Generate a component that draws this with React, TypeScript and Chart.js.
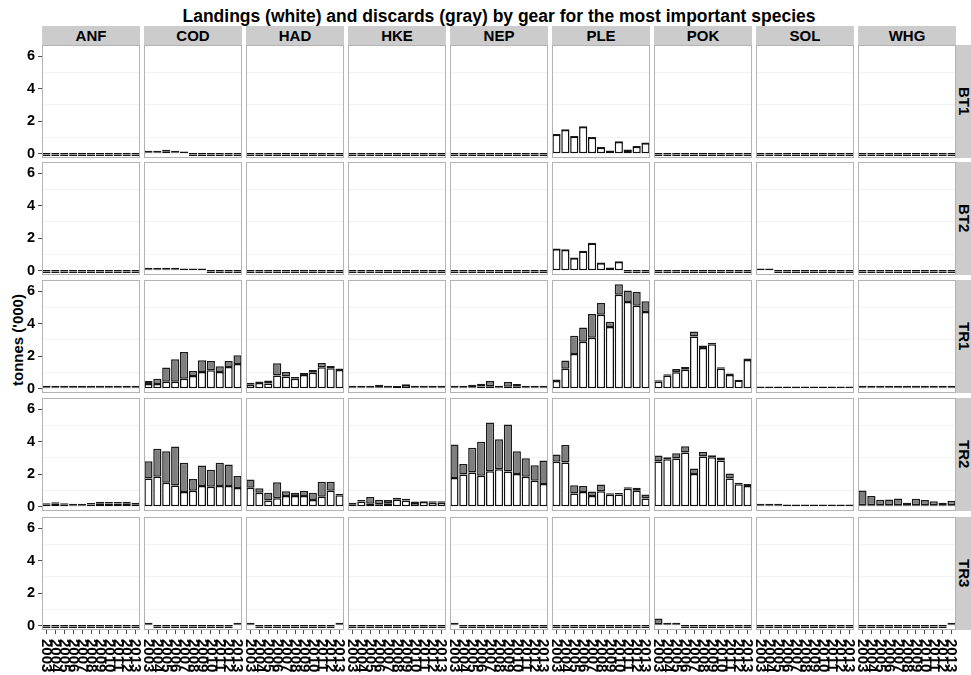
import React, { useEffect, useRef } from 'react';
import { Chart, registerables } from 'chart.js';

Chart.register(...registerables);

// ---------------- DATA ----------------
const YEARS = ['2003', '2004', '2005', '2006', '2007', '2008', '2009', '2010', '2011', '2012', '2013'];
const SPECIES = ['ANF', 'COD', 'HAD', 'HKE', 'NEP', 'PLE', 'POK', 'SOL', 'WHG'];
const GEARS = ['BT1', 'BT2', 'TR1', 'TR2', 'TR3'];
const Y_TICKS = [0, 2, 4, 6];
const TITLE = 'Landings (white) and discards (gray) by gear for the most important species';
const Y_TITLE = "tonnes ('000)";

// rows: ANF, COD, HAD, HKE, NEP, PLE, POK, SOL, WHG ; columns: 2003..2013
const LANDINGS_BT1 = [
  [0, 0, 0, 0, 0, 0, 0, 0, 0, 0, 0],
  [0.02, 0.04, 0.15, 0.03, 0.01, 0, 0, 0, 0, 0, 0],
  [0, 0, 0, 0, 0, 0, 0, 0, 0, 0, 0],
  [0, 0, 0, 0, 0, 0, 0, 0, 0, 0, 0],
  [0, 0, 0, 0, 0, 0, 0, 0, 0, 0, 0],
  [1.17, 1.46, 1.05, 1.65, 0.99, 0.37, 0.16, 0.72, 0.21, 0.43, 0.64],
  [0, 0, 0, 0, 0, 0, 0, 0, 0, 0, 0],
  [0, 0, 0, 0, 0, 0, 0, 0, 0, 0, 0],
  [0, 0, 0, 0, 0, 0, 0, 0, 0, 0, 0],
];
const DISCARDS_BT1 = [
  [0, 0, 0, 0, 0, 0, 0, 0, 0, 0, 0],
  [0.01, 0.01, 0.02, 0.01, 0, 0, 0, 0, 0, 0, 0],
  [0, 0, 0, 0, 0, 0, 0, 0, 0, 0, 0],
  [0, 0, 0, 0, 0, 0, 0, 0, 0, 0, 0],
  [0, 0, 0, 0, 0, 0, 0, 0, 0, 0, 0],
  [0, 0, 0, 0, 0, 0, 0, 0, 0, 0, 0],
  [0, 0, 0, 0, 0, 0, 0, 0, 0, 0, 0],
  [0, 0, 0, 0, 0, 0, 0, 0, 0, 0, 0],
  [0, 0, 0, 0, 0, 0, 0, 0, 0, 0, 0],
];

const LANDINGS_BT2 = [
  [0, 0, 0, 0, 0, 0, 0, 0, 0, 0, 0],
  [0.03, 0.03, 0.03, 0.04, 0.03, 0.02, 0.01, 0, 0, 0, 0],
  [0, 0, 0, 0, 0, 0, 0, 0, 0, 0, 0],
  [0, 0, 0, 0, 0, 0, 0, 0, 0, 0, 0],
  [0, 0, 0, 0, 0, 0, 0, 0, 0, 0, 0],
  [1.32, 1.27, 0.77, 1.18, 1.68, 0.46, 0.16, 0.54, 0, 0, 0],
  [0, 0, 0, 0, 0, 0, 0, 0, 0, 0, 0],
  [0.02, 0.01, 0, 0, 0, 0, 0, 0, 0, 0, 0],
  [0, 0, 0, 0, 0, 0, 0, 0, 0, 0, 0],
];
const DISCARDS_BT2 = [
  [0, 0, 0, 0, 0, 0, 0, 0, 0, 0, 0],
  [0.01, 0.01, 0.01, 0.01, 0, 0, 0, 0, 0, 0, 0],
  [0, 0, 0, 0, 0, 0, 0, 0, 0, 0, 0],
  [0, 0, 0, 0, 0, 0, 0, 0, 0, 0, 0],
  [0, 0, 0, 0, 0, 0, 0, 0, 0, 0, 0],
  [0, 0, 0, 0, 0, 0, 0, 0, 0, 0, 0],
  [0, 0, 0, 0, 0, 0, 0, 0, 0, 0, 0],
  [0, 0, 0, 0, 0, 0, 0, 0, 0, 0, 0],
  [0, 0, 0, 0, 0, 0, 0, 0, 0, 0, 0],
];

const LANDINGS_TR1 = [
  [0.02, 0.03, 0.05, 0.06, 0.1, 0.06, 0.05, 0.05, 0.03, 0.02, 0.02],
  [0.29, 0.29, 0.43, 0.43, 0.62, 0.78, 1.03, 1.13, 1.03, 1.34, 1.52],
  [0.25, 0.35, 0.33, 0.82, 0.76, 0.62, 0.84, 0.99, 1.32, 1.26, 1.15],
  [0.01, 0.02, 0.06, 0.1, 0.1, 0.12, 0.23, 0.06, 0.06, 0.05, 0.05],
  [0.05, 0.01, 0.1, 0.14, 0.16, 0.1, 0.12, 0.12, 0.05, 0.03, 0.02],
  [0.48, 1.23, 2.14, 2.88, 3.13, 4.55, 3.79, 5.78, 5.33, 5.1, 4.71],
  [0.43, 0.8, 1.01, 1.17, 3.21, 2.51, 2.74, 1.23, 0.84, 0.51, 1.77],
  [0.01, 0.01, 0.01, 0.01, 0.01, 0.01, 0.01, 0.01, 0.01, 0.01, 0.01],
  [0.01, 0.01, 0.01, 0.02, 0.01, 0.01, 0.01, 0.01, 0.01, 0.01, 0.01],
];
const DISCARDS_TR1 = [
  [0.01, 0.01, 0.02, 0.02, 0.02, 0.02, 0.01, 0.01, 0.01, 0.01, 0.01],
  [0.18, 0.33, 0.87, 1.38, 1.64, 0.31, 0.72, 0.58, 0.35, 0.37, 0.54],
  [0.12, 0.02, 0.18, 0.74, 0.27, 0.1, 0.13, 0.16, 0.26, 0.14, 0.02],
  [0.01, 0.01, 0.06, 0.15, 0.06, 0, 0, 0.04, 0.02, 0.03, 0.03],
  [0.05, 0.01, 0.15, 0.17, 0.31, 0.06, 0.29, 0.17, 0.05, 0.02, 0.02],
  [0.03, 0.5, 1.11, 0.89, 1.46, 0.72, 0.33, 0.64, 0.7, 0.85, 0.66],
  [0.04, 0.04, 0.2, 0.17, 0.31, 0.14, 0.01, 0.05, 0.09, 0, 0.06],
  [0, 0, 0, 0, 0, 0, 0, 0, 0, 0, 0],
  [0.07, 0.01, 0.05, 0.08, 0.03, 0.02, 0.05, 0.04, 0.02, 0.01, 0.05],
];

const LANDINGS_TR2 = [
  [0.12, 0.18, 0.12, 0.1, 0.08, 0.14, 0.22, 0.2, 0.2, 0.22, 0.16],
  [1.73, 1.85, 1.48, 1.3, 0.9, 0.99, 1.27, 1.23, 1.27, 1.27, 1.15],
  [1.17, 0.86, 0.39, 0.53, 0.66, 0.66, 0.66, 0.41, 0.62, 0.99, 0.7],
  [0.16, 0.33, 0.18, 0.16, 0.21, 0.43, 0.39, 0.23, 0.29, 0.25, 0.25],
  [1.77, 1.98, 2.1, 1.91, 2.18, 2.3, 2.16, 2.02, 1.85, 1.6, 1.4],
  [2.76, 2.72, 0.82, 0.91, 0.66, 0.95, 0.74, 0.76, 1.11, 0.99, 0.51],
  [2.78, 2.92, 2.96, 3.33, 2.02, 3.09, 3.04, 2.84, 1.73, 1.38, 1.28],
  [0.03, 0.04, 0.05, 0.02, 0.01, 0.01, 0.01, 0.01, 0.01, 0.02, 0.01],
  [0.05, 0.05, 0.03, 0.03, 0.04, 0.03, 0.05, 0.04, 0.03, 0.03, 0.04],
];
const DISCARDS_TR2 = [
  [0.04, 0.02, 0.04, 0.02, 0.04, 0.04, 0.07, 0.03, 0.03, 0.03, 0.02],
  [1.07, 1.71, 1.93, 2.4, 1.81, 0.72, 1.26, 1.05, 1.44, 1.32, 0.74],
  [0.51, 0.27, 0.47, 0.97, 0.29, 0.2, 0.31, 0.45, 0.92, 0.55, 0.08],
  [0.07, 0.04, 0.42, 0.27, 0.2, 0.13, 0.1, 0.02, 0, 0.02, 0.08],
  [2.06, 0.65, 1.52, 2.08, 3.0, 1.85, 2.9, 1.39, 1.13, 0.95, 1.44],
  [0.45, 1.07, 0.5, 0.37, 0.27, 0.41, 0.06, 0.04, 0.06, 0.18, 0.25],
  [0.37, 0.12, 0.33, 0.39, 0.33, 0.28, 0.13, 0.18, 0.31, 0.1, 0.12],
  [0.01, 0.01, 0.01, 0, 0, 0, 0, 0, 0, 0, 0],
  [0.9, 0.57, 0.34, 0.36, 0.41, 0.15, 0.4, 0.33, 0.24, 0.15, 0.27],
];

const LANDINGS_TR3 = [
  [0, 0, 0, 0, 0, 0, 0, 0, 0, 0, 0],
  [0.01, 0, 0, 0, 0, 0, 0, 0, 0, 0, 0.01],
  [0.02, 0, 0, 0, 0, 0, 0, 0, 0, 0, 0.01],
  [0, 0, 0, 0, 0, 0, 0, 0, 0, 0, 0],
  [0.01, 0, 0, 0, 0, 0, 0, 0, 0, 0, 0],
  [0, 0, 0, 0, 0, 0, 0, 0, 0, 0, 0],
  [0.05, 0.01, 0.02, 0, 0, 0, 0, 0, 0, 0, 0],
  [0, 0, 0, 0, 0, 0, 0, 0, 0, 0, 0],
  [0, 0, 0, 0, 0, 0, 0, 0, 0, 0, 0.01],
];
const DISCARDS_TR3 = [
  [0, 0, 0, 0, 0, 0, 0, 0, 0, 0, 0],
  [0.01, 0, 0, 0, 0, 0, 0, 0, 0, 0, 0.02],
  [0.08, 0, 0, 0, 0, 0, 0, 0, 0, 0, 0.04],
  [0, 0, 0, 0, 0, 0, 0, 0, 0, 0, 0],
  [0.01, 0, 0, 0, 0, 0, 0, 0, 0, 0, 0],
  [0, 0, 0, 0, 0, 0, 0, 0, 0, 0, 0],
  [0.35, 0.01, 0.01, 0, 0, 0, 0, 0, 0, 0, 0],
  [0, 0, 0, 0, 0, 0, 0, 0, 0, 0, 0],
  [0, 0, 0, 0, 0, 0, 0, 0, 0, 0, 0.05],
];

const LANDINGS = [LANDINGS_BT1, LANDINGS_BT2, LANDINGS_TR1, LANDINGS_TR2, LANDINGS_TR3];
const DISCARDS = [DISCARDS_BT1, DISCARDS_BT2, DISCARDS_TR1, DISCARDS_TR2, DISCARDS_TR3];

// ---------------- LAYOUT / STYLE ----------------
const FONT = '"Liberation Sans", Arial, Helvetica, sans-serif';
const COL_X0 = 42;
const COL_PITCH = 102;
const PANEL_W = 98;
const ROW_TOPS = [45, 162, 280, 398, 517];
const PANEL_H = 113;
const Y_AXIS_W = 42;
const X_AXIS_H = 4;
const X_LABEL_SPACE = 42;
const SIDE_PAD = 10;
const Y_MIN = -0.26;
const Y_MAX = 6.68;

const borderPlugin = {
  id: 'panelBorder',
  afterDraw(chart: any) {
    const { ctx, chartArea: a } = chart;
    ctx.save();
    ctx.strokeStyle = '#b3b3b3';
    ctx.lineWidth = 1;
    ctx.strokeRect(a.left + 0.5, a.top + 0.5, a.right - a.left - 1, a.bottom - a.top - 1);
    ctx.restore();
  },
};

const xLabelPlugin = {
  id: 'xLabelsRotated',
  afterDraw(chart: any) {
    const xs = chart.scales.x;
    const ctx = chart.ctx;
    ctx.save();
    ctx.font = `bold 15px ${FONT}`;
    ctx.fillStyle = '#000';
    ctx.textAlign = 'left';
    ctx.textBaseline = 'middle';
    xs.ticks.forEach((t: any, i: number) => {
      const x = xs.getPixelForTick(i);
      const label = xs.getLabelForValue(t.value);
      ctx.save();
      ctx.translate(x, chart.chartArea.bottom + X_AXIS_H + 5);
      ctx.rotate(Math.PI / 2);
      ctx.fillText(label, 0, 0);
      ctx.restore();
    });
    ctx.restore();
  },
};

function Panel({ r, c }: { r: number; c: number }) {
  const ref = useRef<HTMLCanvasElement | null>(null);
  const isLeft = c === 0;
  const isBottom = r === GEARS.length - 1;
  const panelX = COL_X0 + COL_PITCH * c;
  const padL = isLeft ? 0 : isBottom ? SIDE_PAD : 0;
  const padR = isBottom ? SIDE_PAD : 0;
  const left = isLeft ? 0 : panelX - padL;
  const width = isLeft ? Y_AXIS_W + PANEL_W + padR : PANEL_W + padL + padR;
  const height = PANEL_H + (isBottom ? X_AXIS_H + X_LABEL_SPACE : 0);
  const top = ROW_TOPS[r];

  useEffect(() => {
    const canvas = ref.current;
    if (!canvas) return;
    const common = {
      borderWidth: 1.5,
      borderSkipped: false,
      minBarLength: 1.5,
      barPercentage: 0.92,
      categoryPercentage: 1,
    };
    const chart = new Chart(canvas, {
      type: 'bar',
      data: {
        labels: YEARS,
        datasets: [
          { label: 'Landings', data: LANDINGS[r][c], backgroundColor: '#ffffff', borderColor: '#111111', ...common },
          { label: 'Discards', data: DISCARDS[r][c], backgroundColor: '#7f7f7f', borderColor: '#1a1a1a', ...common },
        ],
      },
      options: {
        animation: false,
        responsive: false,
        devicePixelRatio: 1,
        events: [],
        layout: { padding: { left: padL, right: padR, top: 0, bottom: isBottom ? X_LABEL_SPACE : 0 } },
        plugins: { legend: { display: false }, tooltip: { enabled: false }, title: { display: false } },
        scales: {
          x: {
            stacked: true,
            offset: true,
            display: isBottom,
            grid: {
              display: true,
              offset: false,
              drawOnChartArea: false,
              drawTicks: true,
              tickLength: X_AXIS_H,
              tickColor: '#4d4d4d',
              tickWidth: 1,
              color: 'rgba(0,0,0,0)',
            },
            border: { display: false },
            ticks: { display: false },
            afterFit: (s: any) => {
              s.height = isBottom ? X_AXIS_H : 0;
              s.paddingLeft = 0;
              s.paddingRight = 0;
              s.paddingTop = 0;
              s.paddingBottom = 0;
            },
          },
          y: {
            stacked: true,
            min: Y_MIN,
            max: Y_MAX,
            display: true,
            grid: {
              display: true,
              drawTicks: isLeft,
              tickLength: 4,
              tickWidth: 1,
              lineWidth: 1,
              color: (ctx: any) => (ctx.tick && Y_TICKS.includes(ctx.tick.value) ? 'rgba(0,0,0,0)' : '#f2f2f2'),
              tickColor: (ctx: any) => (ctx.tick && Y_TICKS.includes(ctx.tick.value) ? '#4d4d4d' : 'rgba(0,0,0,0)'),
            },
            border: { display: false },
            ticks: {
              display: isLeft,
              stepSize: 1,
              includeBounds: false,
              autoSkip: false,
              padding: 3,
              color: '#000',
              font: { family: FONT, size: 14.5, weight: 'bold' },
              callback: (v: any) => (Y_TICKS.includes(Number(v)) ? String(v) : ''),
            },
            afterFit: (s: any) => {
              s.width = isLeft ? Y_AXIS_W : 0;
              s.paddingTop = 0;
              s.paddingBottom = 0;
              s.paddingLeft = 0;
              s.paddingRight = 0;
            },
          },
        },
      },
      plugins: isBottom ? [borderPlugin, xLabelPlugin] : [borderPlugin],
    } as any);
    return () => chart.destroy();
  }, [r, c]);

  return (
    <canvas
      ref={ref}
      width={width}
      height={height}
      style={{ position: 'absolute', left, top, width, height, display: 'block' }}
    />
  );
}

export default function App() {
  const panels: React.ReactNode[] = [];
  GEARS.forEach((_, r) => SPECIES.forEach((__, c) => panels.push(<Panel key={`${r}-${c}`} r={r} c={c} />)));
  return (
    <div
      style={{
        position: 'fixed',
        left: 0,
        top: 0,
        width: 971,
        height: 675,
        background: '#ffffff',
        overflow: 'hidden',
        fontFamily: FONT,
      }}
    >
      <div
        style={{
          position: 'absolute',
          left: COL_X0,
          width: COL_PITCH * 8 + PANEL_W,
          top: 6,
          height: 20,
          lineHeight: '20px',
          textAlign: 'center',
          fontWeight: 'bold',
          fontSize: 17.5,
          color: '#000',
          whiteSpace: 'nowrap',
        }}
      >
        {TITLE}
      </div>
      {SPECIES.map((s, c) => (
        <div
          key={s}
          style={{
            position: 'absolute',
            left: COL_X0 + COL_PITCH * c,
            top: 26,
            width: PANEL_W,
            height: 19,
            background: '#cccccc',
            textAlign: 'center',
            lineHeight: '19px',
            fontWeight: 'bold',
            fontSize: 15,
            color: '#000',
          }}
        >
          {s}
        </div>
      ))}
      {GEARS.map((g, r) => (
        <div
          key={g}
          style={{
            position: 'absolute',
            left: COL_X0 + COL_PITCH * 8 + PANEL_W,
            top: ROW_TOPS[r],
            width: 16,
            height: PANEL_H,
            background: '#cccccc',
            display: 'flex',
            alignItems: 'center',
            justifyContent: 'center',
          }}
        >
          <span style={{ writingMode: 'vertical-rl', fontWeight: 'bold', fontSize: 15, color: '#000', lineHeight: '15px' }}>
            {g}
          </span>
        </div>
      ))}
      <div
        style={{
          position: 'absolute',
          left: 18 - 100,
          top: 340 - 10,
          width: 200,
          height: 20,
          lineHeight: '20px',
          textAlign: 'center',
          transform: 'rotate(-90deg)',
          fontWeight: 'bold',
          fontSize: 15,
          color: '#000',
          whiteSpace: 'nowrap',
        }}
      >
        {Y_TITLE}
      </div>
      {panels}
    </div>
  );
}
